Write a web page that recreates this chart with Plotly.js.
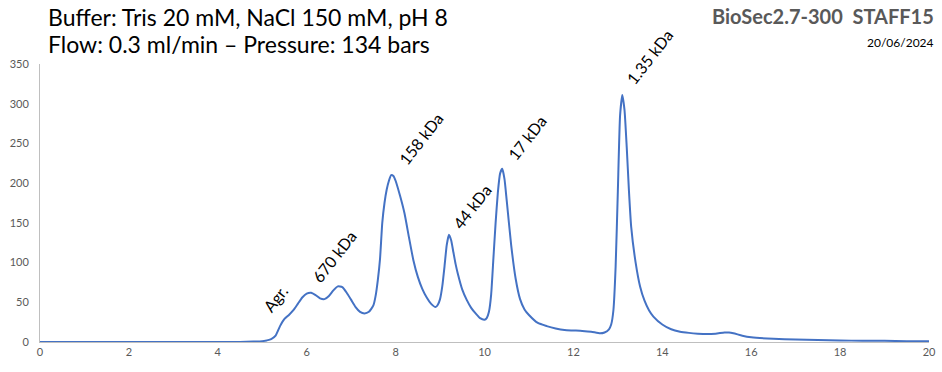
<!DOCTYPE html>
<html>
<head>
<meta charset="utf-8">
<script src="https://cdn.plot.ly/plotly-3.0.1.min.js"></script>
<style>html,body{margin:0;padding:0;background:#fff;}#chart{width:942px;height:372px;}</style>
</head>
<body>
<div id="chart"></div>
<script>
// Elution volume (ml) and absorbance
const volume = [0, 1, 2, 3, 4, 4.5, 4.8, 5.0, 5.1, 5.2, 5.3, 5.4, 5.5, 5.6, 5.7, 5.8, 5.9, 6.0, 6.1, 6.2, 6.3, 6.4, 6.5, 6.6, 6.7, 6.8, 6.9, 7.0, 7.1, 7.2, 7.3, 7.4, 7.5, 7.55, 7.6, 7.65, 7.7, 7.75, 7.8, 7.85, 7.9, 7.95, 8.0, 8.1, 8.2, 8.3, 8.4, 8.5, 8.6, 8.7, 8.8, 8.9, 8.95, 9.0, 9.05, 9.1, 9.15, 9.2, 9.25, 9.3, 9.35, 9.4, 9.5, 9.6, 9.7, 9.8, 9.9, 10.0, 10.05, 10.1, 10.15, 10.2, 10.25, 10.3, 10.35, 10.4, 10.45, 10.5, 10.6, 10.7, 10.8, 10.9, 11.0, 11.2, 11.4, 11.6, 11.8, 12.0, 12.2, 12.4, 12.6, 12.7, 12.8, 12.85, 12.9, 12.95, 13.0, 13.05, 13.1, 13.15, 13.2, 13.25, 13.3, 13.4, 13.5, 13.6, 13.7, 13.8, 14.0, 14.2, 14.4, 14.6, 14.8, 15.0, 15.2, 15.4, 15.5, 15.6, 15.8, 16.0, 16.5, 17, 17.5, 18, 18.5, 19, 19.5, 20];
const absorbance = [0, 0, 0, 0, 0, 0, 0.5, 1, 2, 3.5, 8, 20, 29, 34, 40, 48, 56, 61, 62, 59, 55, 54, 58, 65, 70, 69, 62, 53, 44, 38, 36, 38, 46, 58, 78, 105, 150, 175, 192, 203, 210, 209, 203, 184, 162, 132, 103, 82, 67, 56, 48, 44, 47, 54, 70, 95, 122, 135, 128, 113, 98, 86, 66, 53, 43, 36, 30, 28, 30, 38, 60, 105, 150, 188, 212, 218, 205, 178, 122, 80, 54, 41, 34, 24, 20, 17, 15, 14.5, 14, 13, 11, 12, 16, 22, 40, 95, 190, 285, 311, 292, 245, 190, 145, 100, 70, 52, 40, 32, 22, 16, 13, 11.5, 10.5, 10, 10.5, 12, 12, 11, 8, 6, 4, 3, 2.5, 2, 1.5, 1.5, 1, 1];

const peakLabels = ["Agr.", "670 kDa", "158 kDa", "44 kDa", "17 kDa", "1.35 kDa"];
const peakLabelX = [5.29, 6.61, 8.57, 9.72, 10.96, 13.72];
const peakLabelY = [55, 108, 256, 170, 257, 345];
const peakLabelShift = [0, 0, 0, 0, 0, 11];

const xTicks = [0, 2, 4, 6, 8, 10, 12, 14, 16, 18, 20];
const yTicks = [0, 50, 100, 150, 200, 250, 300, 350];

const FONT = "Lato, 'Open Sans', sans-serif";

const annotations = peakLabels.map((t, i) => ({
  text: t, x: peakLabelX[i], y: peakLabelY[i], xref: 'x', yref: 'y',
  yshift: peakLabelShift[i],
  showarrow: false, textangle: -52,
  font: {family: FONT, size: 16, color: '#000'}
}));

annotations.push(
  {text: "Buffer: Tris 20 mM, NaCl 150 mM, pH 8", xref: 'paper', yref: 'paper',
   x: (46 - 40) / 889, y: (342 - 17) / 278, xanchor: 'left', yanchor: 'middle',
   showarrow: false, font: {family: FONT, size: 23, color: '#000'}},
  {text: "Flow: 0.3 ml/min – Pressure: 134 bars", xref: 'paper', yref: 'paper',
   x: (46 - 40) / 889, y: (342 - 44) / 278, xanchor: 'left', yanchor: 'middle',
   showarrow: false, font: {family: FONT, size: 23, color: '#000'}},
  {text: "<b>BioSec2.7-300  STAFF15</b>", xref: 'paper', yref: 'paper',
   x: (936 - 40) / 889, y: (342 - 16) / 278, xanchor: 'right', yanchor: 'middle',
   showarrow: false, font: {family: FONT, size: 20, color: '#595959'}},
  {text: "20/06/2024", xref: 'paper', yref: 'paper',
   x: (936 - 40) / 889, y: (342 - 42) / 278, xanchor: 'right', yanchor: 'middle',
   showarrow: false, font: {family: FONT, size: 12, color: '#000'}}
);

const trace = {
  x: volume, y: absorbance, type: 'scatter', mode: 'lines',
  line: {color: '#4472C4', width: 2, shape: 'spline', smoothing: 0.5},
  hoverinfo: 'skip'
};

const layout = {
  width: 942, height: 372,
  margin: {l: 40, r: 13, t: 64, b: 30, pad: 0},
  paper_bgcolor: '#fff', plot_bgcolor: '#fff',
  showlegend: false,
  xaxis: {
    range: [0, 20], tickvals: xTicks, ticktext: xTicks.map(String),
    showgrid: false, zeroline: false, showline: true, linecolor: '#bfbfbf', linewidth: 1,
    ticks: '', tickfont: {family: FONT, size: 11, color: '#595959'}
  },
  yaxis: {
    range: [0, 350], tickvals: yTicks, ticktext: yTicks.map(String),
    showgrid: false, zeroline: false, showline: true, linecolor: '#bfbfbf', linewidth: 1,
    ticks: '', ticklabelstandoff: 8, tickfont: {family: FONT, size: 11, color: '#595959'}
  },
  annotations: annotations
};

Plotly.newPlot('chart', [trace], layout, {staticPlot: true, displayModeBar: false});
</script>
</body>
</html>
